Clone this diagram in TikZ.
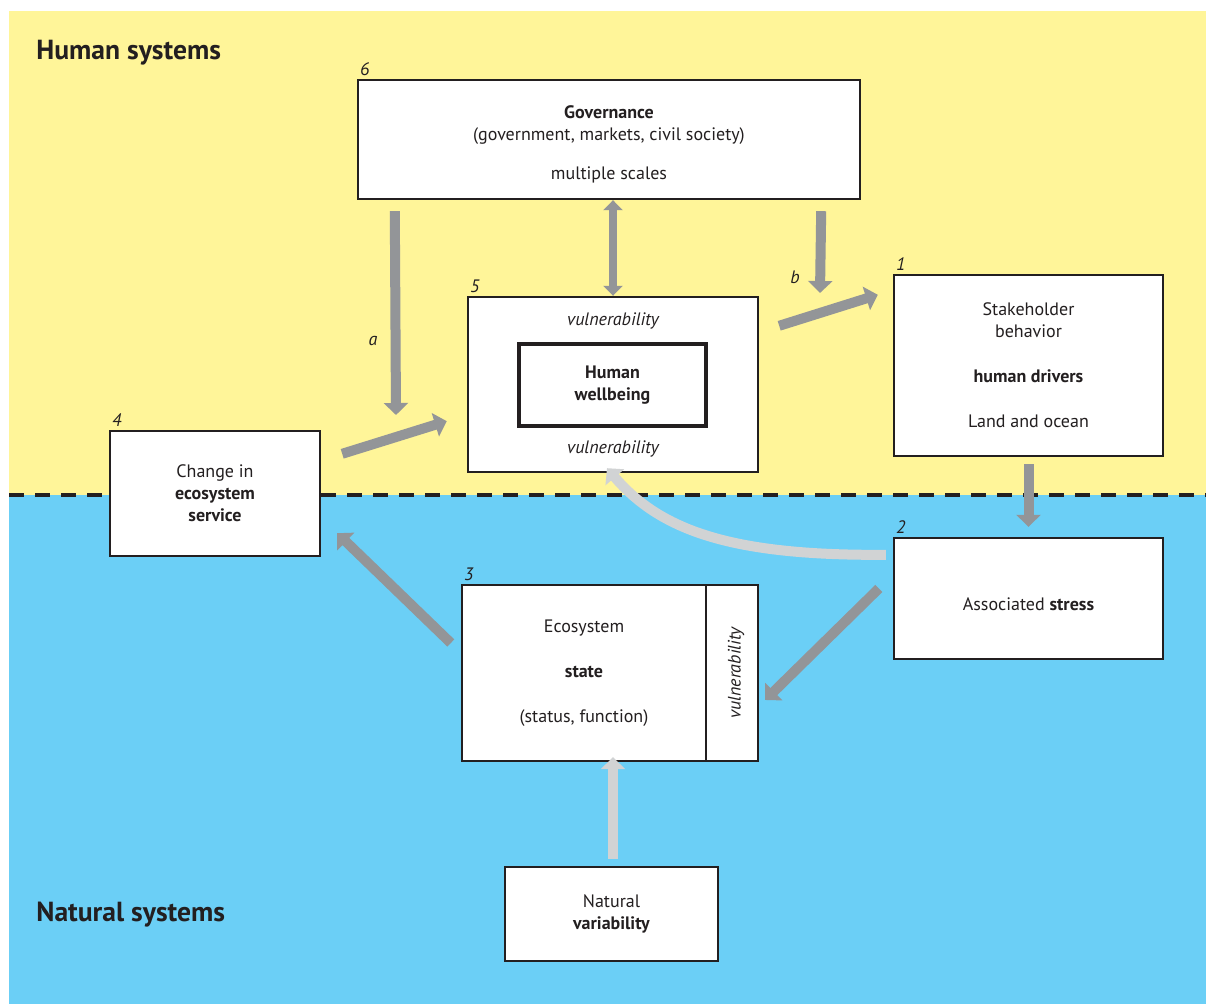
\documentclass[tikz,border=0pt]{standalone}
\usepackage{fontspec}
\setmainfont{PT Sans}
\usetikzlibrary{arrows.meta}
\definecolor{humanbg}{HTML}{FFF599}
\definecolor{naturebg}{HTML}{6BCFF6}
\definecolor{flowgray}{HTML}{939598}
\definecolor{paleflow}{HTML}{D1D3D4}
\definecolor{ink}{HTML}{231F20}
\begin{document}
\begin{tikzpicture}[x=0.5pt,y=-0.5pt,
    box/.style={draw=ink, line width=1.2pt, fill=white, align=center, text=ink,
        inner sep=0pt, font=\fontsize{9}{11}\selectfont},
    txt/.style={text=ink, inner sep=0pt, font=\fontsize{9}{11}\selectfont},
    num/.style={text=ink, inner sep=1.5pt, font=\fontsize{9}{11}\selectfont\itshape},
    head/.style={text=ink, inner sep=0pt, anchor=base west, font=\fontsize{13.8}{16}\selectfont\bfseries},
    flow/.style={draw=flowgray, line width=5pt, -{Triangle[length=6pt,width=12pt]}},
    twoway/.style={draw=flowgray, line width=4pt, {Triangle[length=5pt,width=9.5pt]}-{Triangle[length=5pt,width=9.5pt]}},
    paleflow/.style={draw=paleflow, line width=5pt, -{Triangle[length=6pt,width=12pt]}}]
    \useasboundingbox (0,0) rectangle (1206,1004);

    % two worlds
    \fill[humanbg] (9,11) rectangle (1206,495);
    \fill[naturebg] (9,495) rectangle (1206,1004);
    \draw[ink, line width=1.6pt, dash pattern=on 7.5pt off 5.5pt] (9,495) -- (1206,495);

    \node[head] (human) at (36,60) {Human systems};
    \node[head] (natural) at (36,922) {Natural systems};

    % boxes
    \node[box, minimum width=251pt, minimum height=59.5pt,
        label={[num, anchor=south west]north west:6}] (gov) at (609,139.5)
        {\raisebox{-2.5pt}[\height][\depth]{\begin{tabular}{@{}c@{}}\textbf{Governance}\\(government, markets, civil society)\\[8.5pt]multiple scales\end{tabular}}};
    \node[box, minimum width=145pt, minimum height=87.5pt,
        label={[num, anchor=south west]north west:5}] (hw) at (613,384.5) {};
    \node[txt, font=\fontsize{9}{11}\selectfont\itshape] (vultop) at (613,321) {vulnerability};
    \node[txt, font=\fontsize{9}{11}\selectfont\itshape] (vulbot) at (613,449) {vulnerability};
    \node[box, line width=2.3pt, minimum width=93.5pt, minimum height=41pt] (well) at (612.5,385)
        {\textbf{Human}\\\textbf{wellbeing}};
    \node[box, minimum width=134.5pt, minimum height=90.5pt,
        label={[num, anchor=south west]north west:1}] (drv) at (1028.5,365.5)
        {Stakeholder\\behavior\\[11.5pt]\textbf{human drivers}\\[11.5pt]Land and ocean};
    \node[box, minimum width=105pt, minimum height=62.5pt,
        label={[num, anchor=south west]north west:4}] (esv) at (215,493.5)
        {Change in\\\textbf{ecosystem}\\\textbf{service}};
    \node[box, minimum width=134.5pt, minimum height=60.5pt,
        label={[num, anchor=south west]north west:2}] (str) at (1028.5,598.5)
        {\raisebox{-3pt}[\height][\depth]{Associated \textbf{stress}}};
    \node[box, minimum width=122pt, minimum height=88pt,
        label={[num, anchor=south west]north west:3}] (eco) at (584,673)
        {Ecosystem\\[11.5pt]\textbf{state}\\[11.5pt](status, function)};
    \node[box, minimum width=26pt, minimum height=88pt] (ecovul) at (732,673) {};
    \node[txt, rotate=90, font=\fontsize{9}{11}\selectfont\itshape] (vulside) at (736,673) {vulnerability};
    \node[box, minimum width=106.5pt, minimum height=47pt] (nat) at (611.5,914)
        {Natural\\\textbf{variability}};

    \node[num] (la) at (373,341) {a};
    \node[num] (lb) at (795,277) {b};

    % free ends of a and b
    \coordinate (aend) at (396,415);
    \coordinate (bend) at (820,293);

    % flows
    \draw[flow] ([shift={(38,11)}]gov.south west) -- (aend);
    \draw[flow] ([shift={(-40,11)}]gov.south east) -- (bend);
    \draw[twoway] (hw.north |- gov.south) -- (hw.north);
    \draw[flow] ([shift={(20,30)}]hw.north east) -- ([shift={(-15,21)}]drv.north west);
    \draw[flow] ([shift={(21,24)}]esv.north east) -- ([shift={(-20,-52)}]hw.south west);
    \draw[flow] ([yshift=-3.5pt]drv.south) -- ([yshift=5pt]str.north);
    \draw[flow] ([shift={(-14,-10)}]str.west) -- ([shift={(6,27)}]ecovul.east);
    \draw[flow] ([shift={(-10,-30)}]eco.west) -- ([shift={(16,-24)}]esv.south east);
    \draw[paleflow] ([shift={(1.5,-7)}]nat.north) -- ([shift={(29,-5)}]eco.south);
    \draw[paleflow] ([shift={(-7,18)}]str.north west) .. controls (730,556) and (660,530) .. ([shift={(-6,-5)}]hw.south);
\end{tikzpicture}
\end{document}
